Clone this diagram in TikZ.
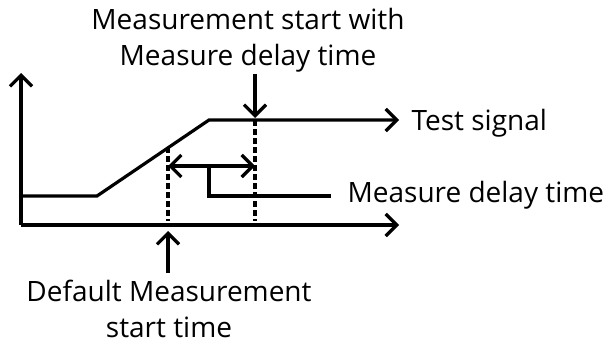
\documentclass[tikz,border=0pt]{standalone}
\usepackage{fontspec}
\setmainfont{Open Sans}
\usetikzlibrary{arrows.meta}
\begin{document}
\begin{tikzpicture}[x=1pt,y=-1pt,
  line width=3.2pt,
  tip/.style={-{Straight Barb[length=11pt,width=22pt,line width=3.2pt]}},
  dtip/.style={{Straight Barb[length=11pt,width=22pt,line width=3.2pt]}-{Straight Barb[length=11pt,width=22pt,line width=3.2pt]}},
  dashline/.style={line width=3.4pt,dash pattern=on 5.5pt off 3.5pt},
  lbl/.style={font=\fontsize{28}{36}\selectfont, inner sep=0pt, align=center}]
\useasboundingbox (0,0) rectangle (605,345);
% coordinates
\coordinate (o) at (21,225);
\coordinate (ytop) at (21,73);
\coordinate (xend) at (399,225);
\coordinate (s0) at (21,196);
\coordinate (s1) at (97,196);
\coordinate (s2) at (209,120);
\coordinate (send) at (399,120);
\coordinate (d1top) at (168,147);
\coordinate (d1bot) at (168,221);
\coordinate (d2top) at (255,120);
\coordinate (d2bot) at (255,221);
\coordinate (da) at (168,166);
\coordinate (db) at (255,166);
\coordinate (bk0) at (209,166);
\coordinate (bk1) at (209,196);
\coordinate (bk2) at (331,196);
\coordinate (ta0) at (255,74);
\coordinate (ta1) at (255,118);
\coordinate (ba0) at (168,273);
\coordinate (ba1) at (168,231);
% axes
\draw[tip] (o) -- (ytop);
\draw[tip] (o) -- (xend);
% signal
\draw[tip] (s0) -- (s1) -- (s2) -- (send);
% dashed markers
\draw[dashline] (d1top) -- (d1bot);
\draw[dashline] (d2top) -- (d2bot);
% delay
\draw[dtip] (da) -- (db);
\draw (bk0) -- (bk1) -- (bk2);
% pointer arrows
\draw[tip] (ta0) -- (ta1);
\draw[tip] (ba0) -- (ba1);
% labels
\node[lbl, anchor=base west] (tsig) at (410,130) {Test signal};
\node[lbl, anchor=base west] (mdel) at (346,202) {Measure delay time};
\node[lbl, anchor=south] (top) at (248,74) {Measurement start with\\Measure delay time};
\node[lbl, anchor=north] (bot) at (169,278) {Default Measurement\\start time};
\end{tikzpicture}
\end{document}
